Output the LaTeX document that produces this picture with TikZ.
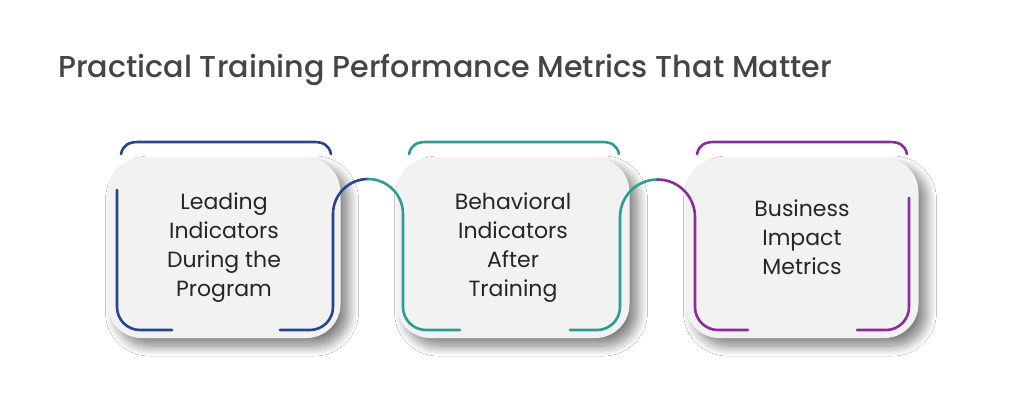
\documentclass[tikz,border=0pt]{standalone}
\usepackage{fontspec}
\setmainfont{Poppins}
\newfontfamily\titlefont{Poppins Medium}
\usetikzlibrary{shadows.blur}

\definecolor{leadblue}{HTML}{24478F}
\definecolor{behavteal}{HTML}{2A9D91}
\definecolor{impactpurple}{HTML}{8C2C9C}
\definecolor{cardgray}{HTML}{F2F2F2}
\definecolor{titlegray}{HTML}{454545}

\tikzset{
  card/.style={fill=cardgray, rounded corners=34pt, minimum width=233pt,
    minimum height=180pt, align=center, text=black!85,
    font=\fontsize{22}{29}\selectfont,
    blur shadow={shadow xshift=8pt, shadow yshift=-8pt,
      shadow blur radius=10pt, shadow blur steps=12, shadow opacity=50}},
  trace/.style={line width=2.6pt, line cap=round},
}

\begin{document}
\begin{tikzpicture}[x=1pt, y=-1pt]
    % Page frame
    \fill[white] (0,0) rectangle (1024,418);
    \useasboundingbox (0,0) rectangle (1024,418);

    % --- Title ---
    \node[anchor=base west, inner sep=0, text=titlegray,
          font=\titlefont\fontsize{30.2}{34}\selectfont]
        (title) at (58,77) {Practical Training Performance Metrics That Matter};

    % --- Cards ---
    \node[card] (lead)   at (224,248) {Leading\\Indicators\\During the\\Program};
    \node[card] (behav)  at (513,248) {Behavioral\\Indicators\\After\\Training};
    \node[card, text depth=22pt] (impact) at (802,248) {Business\\Impact\\Metrics};

    % --- Top brackets ---
    \draw[leadblue, trace]
        (121,154) .. controls (123,145) and (129,142) .. (138,142)
        -- (314,142) .. controls (323,142) and (329,145) .. (331,154);
    \draw[behavteal, trace]
        (409,154) .. controls (411,145) and (417,142) .. (426,142)
        -- (602,142) .. controls (611,142) and (617,145) .. (619,154);
    \draw[impactpurple, trace]
        (697,154) .. controls (699,145) and (705,142) .. (714,142)
        -- (890,142) .. controls (899,142) and (905,145) .. (907,154);

    % --- Side traces and loops between the cards ---
    \draw[leadblue, trace] (117,190) -- (117,307)
        .. controls (117,319.7) and (127.3,330) .. (140,330) -- (172,330);
    \draw[leadblue, trace] (280,330) -- (310,330)
        .. controls (322.7,330) and (333,319.7) .. (333,307) -- (333,214)
        .. controls (333,194.7) and (348.7,179) .. (368,179);
    \draw[behavteal, trace] (368,179)
        .. controls (387.3,179) and (403,194.7) .. (403,214) -- (403,307)
        .. controls (403,319.7) and (413.3,330) .. (426,330) -- (460,330);
    \draw[behavteal, trace] (570,330) -- (597,330)
        .. controls (609.7,330) and (620,319.7) .. (620,307) -- (620,217)
        .. controls (620,196.3) and (636.8,179.5) .. (657.5,179.5);
    \draw[impactpurple, trace] (657.5,179.5)
        .. controls (678.2,179.5) and (695,196.3) .. (695,217) -- (695,307)
        .. controls (695,319.7) and (705.3,330) .. (718,330) -- (748,330);
    \draw[impactpurple, trace] (909,198) -- (909,307)
        .. controls (909,319.7) and (898.7,330) .. (886,330) -- (857,330);
\end{tikzpicture}
\end{document}
